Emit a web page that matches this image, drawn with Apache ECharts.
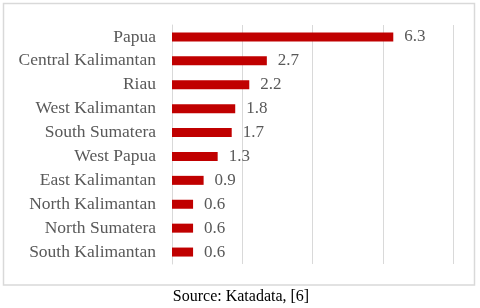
<!DOCTYPE html>
<html>
<head>
<meta charset="utf-8">
<script src="https://cdn.jsdelivr.net/npm/echarts@6/dist/echarts.min.js"></script>
<style>
html,body{margin:0;padding:0;background:#fff;}
#chart{width:480px;height:308px;}
</style>
</head>
<body>
<div id="chart"></div>
<script>
const categories = ["Papua","Central Kalimantan","Riau","West Kalimantan","South Sumatera","West Papua","East Kalimantan","North Kalimantan","North Sumatera","South Kalimantan"];
const values = [6.3, 2.7, 2.2, 1.8, 1.7, 1.3, 0.9, 0.6, 0.6, 0.6];
const sourceText = "Source: Katadata, [6]";

const FONT = '"Liberation Serif", "Times New Roman", serif';
const chart = echarts.init(document.getElementById('chart'), null, {renderer:'canvas'});
chart.setOption({
  animation: false,
  backgroundColor: '#ffffff',
  grid: {left: 172, right: 27, top: 25, bottom: 44, containLabel: false},
  xAxis: {
    type: 'value', min: 0, max: 8, interval: 2,
    axisLabel: {show: false}, axisLine: {show: false}, axisTick: {show: false},
    splitLine: {show: true, lineStyle: {color: '#d9d9d9', width: 1}}
  },
  yAxis: {
    type: 'category', data: categories, inverse: true,
    axisTick: {show: false},
    axisLine: {show: true, lineStyle: {color: '#d9d9d9', width: 1}},
    axisLabel: {color: '#595959', fontFamily: FONT, fontSize: 17.5, margin: 16}
  },
  series: [{
    type: 'bar', data: values, barWidth: 9,
    itemStyle: {color: '#c00000'},
    label: {show: true, position: 'right', distance: 11, color: '#595959', fontFamily: FONT, fontSize: 17,
      formatter: p => p.value.toFixed(1)}
  }],
  graphic: [
    {type: 'rect', shape: {x: 3.5, y: 3.5, width: 471, height: 281.5}, style: {fill: 'none', stroke: '#d9d9d9', lineWidth: 1.5}, silent: true},
    {type: 'text', x: 241, y: 297, style: {text: sourceText, fill: '#000', font: '16px ' + FONT, textAlign: 'center', textVerticalAlign: 'middle'}}
  ]
});
</script>
</body>
</html>
